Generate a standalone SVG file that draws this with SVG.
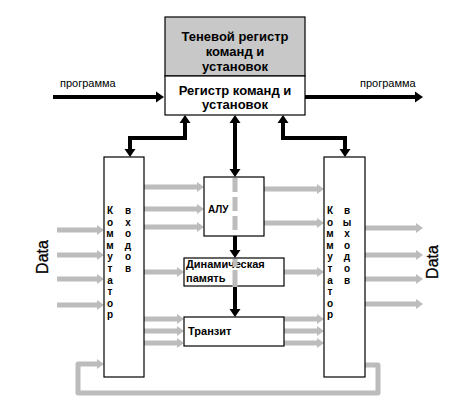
<svg xmlns="http://www.w3.org/2000/svg" width="468" height="410" viewBox="0 0 468 410">
<style>
.box{fill:#fff;stroke:#000;stroke-width:1.2}
.t{font-family:"Liberation Sans",Arial,sans-serif;font-weight:bold;fill:#000}
.s{font-family:"Liberation Sans",Arial,sans-serif;font-size:11px;fill:#000}
.d{font-family:"Liberation Sans",Arial,sans-serif;font-size:16px;fill:#000;stroke:#000;stroke-width:0.3}
.blk{fill:none;stroke:#000;stroke-width:4}
.gr{fill:none;stroke:#bcbcbc;stroke-width:5}
</style>
<defs>
<marker id="bh" markerUnits="userSpaceOnUse" markerWidth="12" markerHeight="12" viewBox="0 -6 9 12" refX="0" refY="0" orient="auto-start-reverse"><path d="M0,-5.5 L8,0 L0,5.5 z" fill="#000"/></marker>
<marker id="gh" markerUnits="userSpaceOnUse" markerWidth="10" markerHeight="12" viewBox="0 -6 8 12" refX="0" refY="0" orient="auto"><path d="M0,-5 L7,0 L0,5 z" fill="#bcbcbc"/></marker>
</defs>
<rect width="468" height="410" fill="#fff"/>

<g id="connectors">
<path class="blk" d="M53,97 H156" marker-end="url(#bh)"/>
<path class="blk" d="M305,97 H415" marker-end="url(#bh)"/>
<path class="blk" d="M185,123 V138 H130 V149" marker-start="url(#bh)" marker-end="url(#bh)"/>
<path class="blk" d="M283,123 V138 H345 V149" marker-start="url(#bh)" marker-end="url(#bh)"/>
<path class="blk" d="M235,123 V169" marker-start="url(#bh)" marker-end="url(#bh)"/>
<path class="blk" d="M235,236 V250" marker-end="url(#bh)"/>
<path class="blk" d="M235,287 V309" marker-end="url(#bh)"/>
<path class="gr" d="M57,230 H97" marker-end="url(#gh)"/>
<path class="gr" d="M57,255 H97" marker-end="url(#gh)"/>
<path class="gr" d="M57,279 H97" marker-end="url(#gh)"/>
<path class="gr" d="M57,305 H97" marker-end="url(#gh)"/>
<path class="gr" d="M144,187 H197" marker-end="url(#gh)"/>
<path class="gr" d="M144,209 H197" marker-end="url(#gh)"/>
<path class="gr" d="M144,227 H197" marker-end="url(#gh)"/>
<path class="gr" d="M144,272 H177" marker-end="url(#gh)"/>
<path class="gr" d="M144,319 H177" marker-end="url(#gh)"/>
<path class="gr" d="M144,331 H177" marker-end="url(#gh)"/>
<path class="gr" d="M144,343 H177" marker-end="url(#gh)"/>
<path class="gr" d="M264,189 H317" marker-end="url(#gh)"/>
<path class="gr" d="M264,223 H317" marker-end="url(#gh)"/>
<path class="gr" d="M284,272 H317" marker-end="url(#gh)"/>
<path class="gr" d="M284,319 H317" marker-end="url(#gh)"/>
<path class="gr" d="M284,331 H317" marker-end="url(#gh)"/>
<path class="gr" d="M284,343 H317" marker-end="url(#gh)"/>
<path class="gr" d="M365,228 H416" marker-end="url(#gh)"/>
<path class="gr" d="M365,255 H416" marker-end="url(#gh)"/>
<path class="gr" d="M365,279 H416" marker-end="url(#gh)"/>
<path class="gr" d="M365,304 H416" marker-end="url(#gh)"/>
<path class="gr" d="M365,365 H378 V393 H78 V364 H97" stroke-linejoin="round" marker-end="url(#gh)"/>
</g>

<g id="register">
<rect x="165" y="17" width="140" height="59" fill="#c8c8c8" stroke="#000" stroke-width="1.2"/>
<rect class="box" x="165" y="76" width="140" height="39"/>
<text class="t" font-size="13" text-anchor="middle" x="235" y="41">Теневой регистр</text>
<text class="t" font-size="13" text-anchor="middle" x="235" y="56">команд и</text>
<text class="t" font-size="13" text-anchor="middle" x="235" y="71">установок</text>
<text class="t" font-size="13" text-anchor="middle" x="235" y="95">Регистр команд и</text>
<text class="t" font-size="13" text-anchor="middle" x="235" y="109">установок</text>
</g>

<g id="labels">
<text class="s" x="60" y="87">программа</text>
<text class="s" x="360" y="87">программа</text>
<text class="d" text-anchor="middle" transform="translate(48,257) rotate(-90)">Data</text>
<text class="d" text-anchor="middle" transform="translate(438,262) rotate(-90)">Data</text>
</g>

<g id="switch-in">
<rect class="box" x="104" y="157" width="40" height="220"/>
<text class="t" font-size="10" text-anchor="middle" y="202.4"><tspan x="110" dy="11.6">К</tspan><tspan x="110" dy="11.6">о</tspan><tspan x="110" dy="11.6">м</tspan><tspan x="110" dy="11.6">м</tspan><tspan x="110" dy="11.6">у</tspan><tspan x="110" dy="11.6">т</tspan><tspan x="110" dy="11.6">а</tspan><tspan x="110" dy="11.6">т</tspan><tspan x="110" dy="11.6">о</tspan><tspan x="110" dy="11.6">р</tspan></text>
<text class="t" font-size="10" text-anchor="middle" y="202.4"><tspan x="128" dy="11.6">в</tspan><tspan x="128" dy="11.6">х</tspan><tspan x="128" dy="11.6">о</tspan><tspan x="128" dy="11.6">д</tspan><tspan x="128" dy="11.6">о</tspan><tspan x="128" dy="11.6">в</tspan></text>
</g>

<g id="switch-out">
<rect class="box" x="324" y="157" width="41" height="220"/>
<text class="t" font-size="10" text-anchor="middle" y="202.4"><tspan x="330" dy="11.6">К</tspan><tspan x="330" dy="11.6">о</tspan><tspan x="330" dy="11.6">м</tspan><tspan x="330" dy="11.6">м</tspan><tspan x="330" dy="11.6">у</tspan><tspan x="330" dy="11.6">т</tspan><tspan x="330" dy="11.6">а</tspan><tspan x="330" dy="11.6">т</tspan><tspan x="330" dy="11.6">о</tspan><tspan x="330" dy="11.6">р</tspan></text>
<text class="t" font-size="10" text-anchor="middle" y="202.4"><tspan x="347" dy="11.6">в</tspan><tspan x="347" dy="11.6">ы</tspan><tspan x="347" dy="11.6">х</tspan><tspan x="347" dy="11.6">о</tspan><tspan x="347" dy="11.6">д</tspan><tspan x="347" dy="11.6">о</tspan><tspan x="347" dy="11.6">в</tspan></text>
</g>

<g id="alu">
<rect class="box" x="204" y="177" width="60" height="59"/>
<text class="t" font-size="10" x="208" y="213">АЛУ</text>
</g>

<g id="memory">
<rect class="box" x="184" y="258" width="100" height="28"/>
<text class="t" font-size="11" x="186" y="268">Динамическая</text>
<text class="t" font-size="11" x="186" y="282">память</text>
</g>

<g id="transit">
<rect class="box" x="184" y="317" width="100" height="29"/>
<text class="t" font-size="11" x="188" y="335">Транзит</text>
</g>

<g id="bus">
<path class="gr" d="M235,178 V234" stroke-dasharray="14 5"/>
<path class="gr" d="M235,259 V287" stroke-dasharray="8 3 20"/>
</g>
</svg>
